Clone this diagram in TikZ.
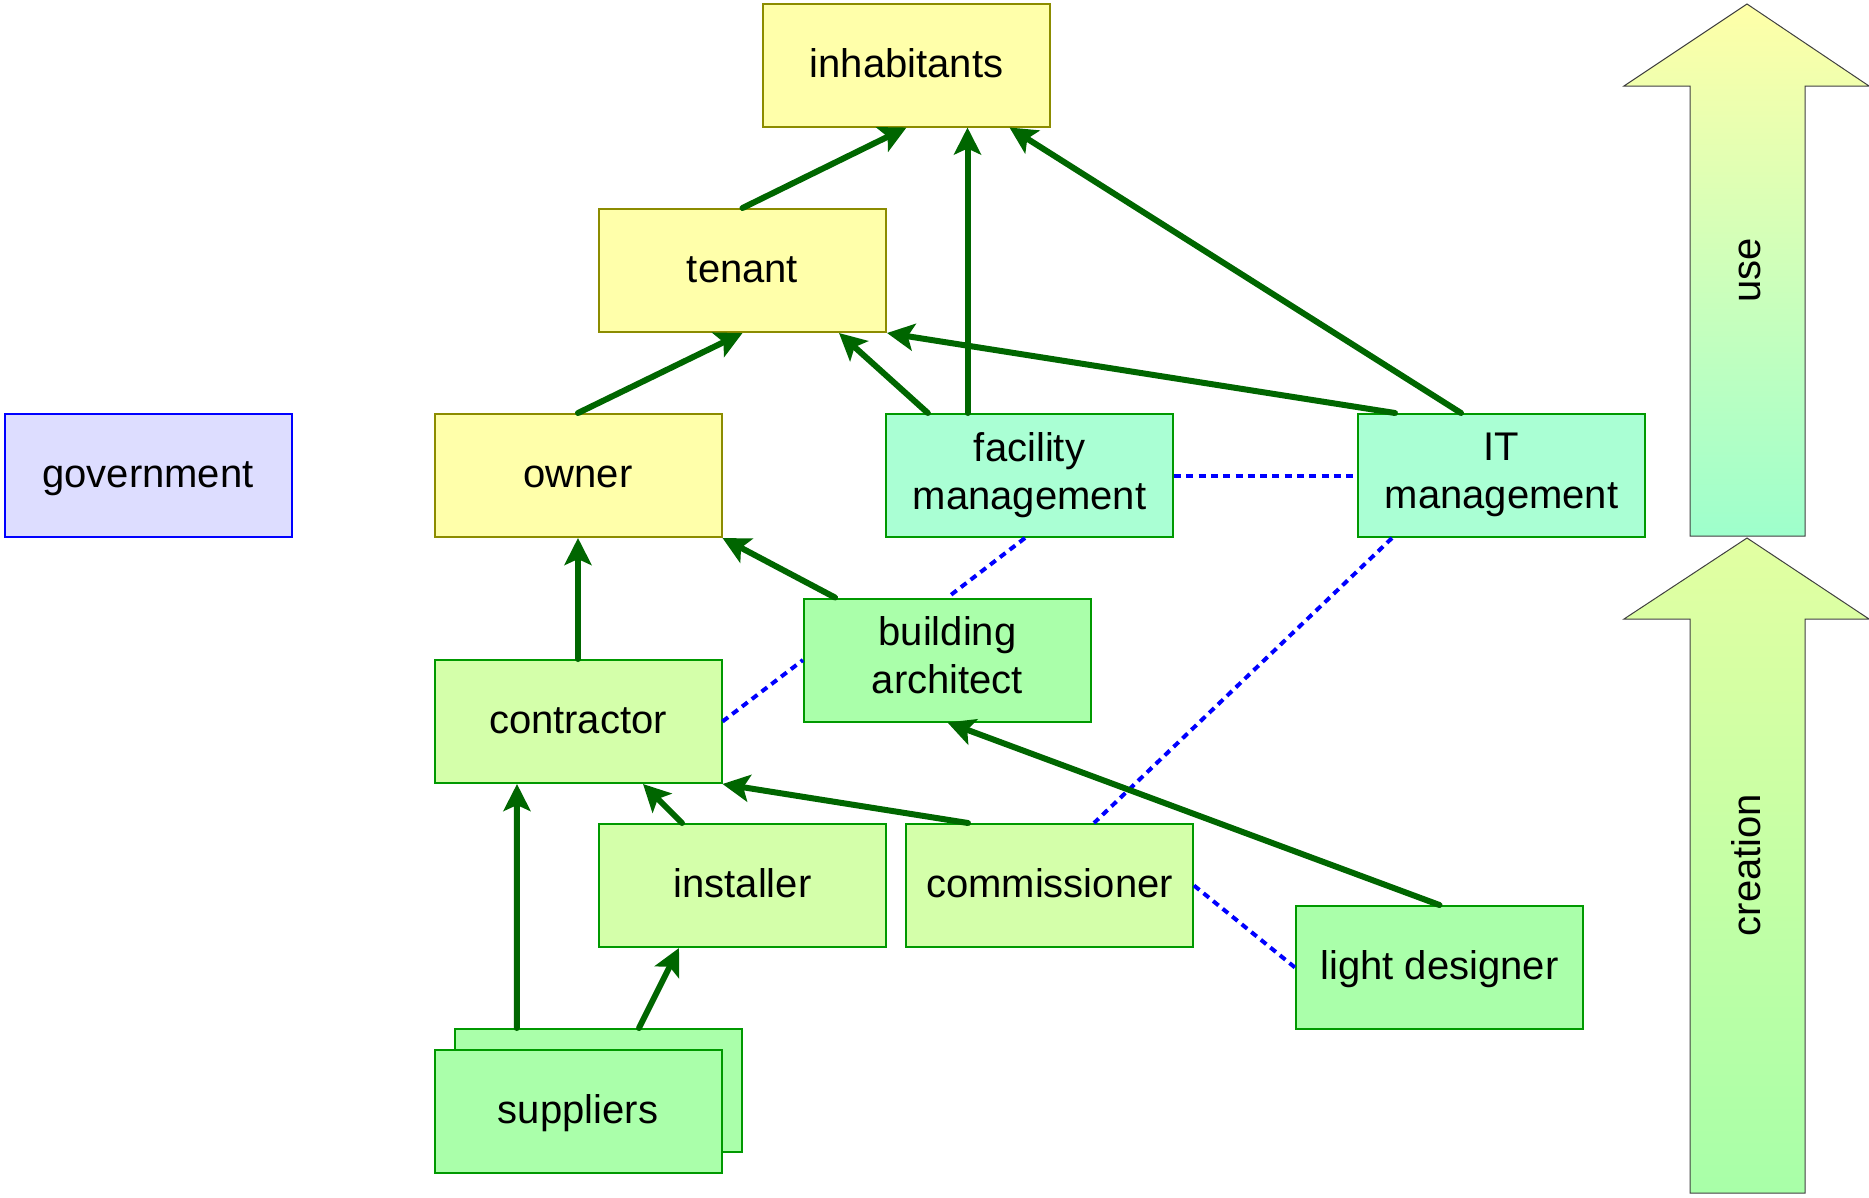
\documentclass[tikz,border=0pt]{standalone}
\usepackage{fontspec}
\setmainfont{Liberation Sans}
\usetikzlibrary{arrows.meta,calc}
\definecolor{yfill}{HTML}{FFFFAA}
\definecolor{ydraw}{HTML}{8C8C00}
\definecolor{afill}{HTML}{AAFFD4}
\definecolor{gfill}{HTML}{AAFFAA}
\definecolor{lfill}{HTML}{D4FFAA}
\definecolor{gdraw}{HTML}{009900}
\definecolor{govfill}{HTML}{DDDDFF}
\definecolor{govdraw}{HTML}{0000FF}
\definecolor{arrowgreen}{HTML}{006600}
\definecolor{dotblue}{HTML}{0000FF}
\definecolor{useTop}{HTML}{FFFFA8}
\definecolor{useBot}{HTML}{9EFFCC}
\definecolor{creTop}{HTML}{E2FFA2}
\definecolor{creBot}{HTML}{A8FFA8}
\tikzset{
  box/.style={rectangle, minimum width=287pt, minimum height=123pt, inner sep=0pt, line width=2pt, align=center,
    font=\fontsize{40}{48}\selectfont,
    execute at begin node={\rule{0pt}{33.4pt}},
    execute at end node={\rule[-9.2pt]{0pt}{0pt}}},
  ybox/.style={box, fill=yfill, draw=ydraw},
  abox/.style={box, fill=afill, draw=gdraw},
  gbox/.style={box, fill=gfill, draw=gdraw},
  lbox/.style={box, fill=lfill, draw=gdraw},
  govbox/.style={box, fill=govfill, draw=govdraw},
  flow/.style={draw=arrowgreen, line width=6pt, line cap=round, -{Stealth[length=27pt,width=27pt,inset=6pt]}},
  assoc/.style={draw=dotblue, line width=4pt, dash pattern=on 7pt off 5.3pt},
  bigarrow/.style={draw=black!75, line width=1pt},
  arrowlabel/.style={rotate=90, anchor=base, inner sep=0pt, font=\fontsize{40}{48}\selectfont}
}
\begin{document}
\begin{tikzpicture}[x=1pt,y=-1pt]
\useasboundingbox (0,0) rectangle (1869,1197);

% big arrows
\shadedraw[bigarrow, top color=useTop, bottom color=useBot]
  (1747,4) -- (1869,86) -- (1805,86) -- (1805,536) -- (1690,536) -- (1690,86) -- (1624,86) -- cycle;
\shadedraw[bigarrow, top color=creTop, bottom color=creBot]
  (1747,538) -- (1869,619) -- (1805,619) -- (1805,1193) -- (1690,1193) -- (1690,619) -- (1624,619) -- cycle;
\node[arrowlabel] (use) at (1760,270) {use};
\node[arrowlabel] (creation) at (1760,865) {creation};

% nodes
\node[ybox] (inhabitants) at (906.5,65) {inhabitants};
\node[ybox] (tenant) at (742.5,270.5) {tenant};
\node[ybox] (owner) at (578,475.5) {owner};
\node[govbox] (government) at (148,475.5) {government};
\node[abox] (facility) at (1029.5,475.5) {facility\\management};
\node[abox] (it) at (1501.5,475.5) {IT\\management};
\node[gbox] (architect) at (947.5,660) {building\\architect};
\node[lbox] (contractor) at (578,721.5) {contractor};
\node[lbox] (installer) at (742.5,885.5) {installer};
\node[lbox] (commissioner) at (1049.5,885.5) {commissioner};
\node[gbox] (light) at (1439.5,967.5) {light designer};
\node[gbox] (suppliersback) at (598.5,1090.5) {};
\node[gbox] (suppliers) at (578,1111) {suppliers};

% dotted associations
\draw[assoc] (facility.east) -- (it.west);
\draw[assoc] ([xshift=-4.5pt]facility.south) -- (architect.north);
\draw[assoc] (contractor.east) -- (architect.west);
\draw[assoc] ([xshift=-109.5pt]it.south) -- ([xshift=44.5pt]commissioner.north);
\draw[assoc] (commissioner.east) -- (light.west);

% flows
\draw[flow] (tenant.north) -- (inhabitants.south);
\draw[flow] ([xshift=-62pt]facility.north) -- ([xshift=61pt]inhabitants.south);
\draw[flow] ([xshift=-40.5pt]it.north) -- ([xshift=103pt]inhabitants.south);
\draw[flow] (owner.north) -- (tenant.south);
\draw[flow] ([xshift=-101.7pt]facility.north) -- ([xshift=96.5pt]tenant.south);
\draw[flow] ([xshift=-106.5pt]it.north) -- (tenant.south east);
\draw[flow] (contractor.north) -- (owner.south);
\draw[flow] ([xshift=32pt]architect.north west) -- (owner.south east);
\draw[flow] ([xshift=-60.5pt]installer.north) -- ([xshift=65pt]contractor.south);
\draw[flow] ([xshift=-81.5pt]commissioner.north) -- (contractor.south east);
\draw[flow] (light.north) -- (architect.south);
\draw[flow] ([xshift=-81.7pt]suppliersback.north) -- ([xshift=-61pt]contractor.south);
\draw[flow] ([xshift=40.5pt]suppliersback.north) -- ([xshift=81pt]installer.south west);
\end{tikzpicture}
\end{document}
